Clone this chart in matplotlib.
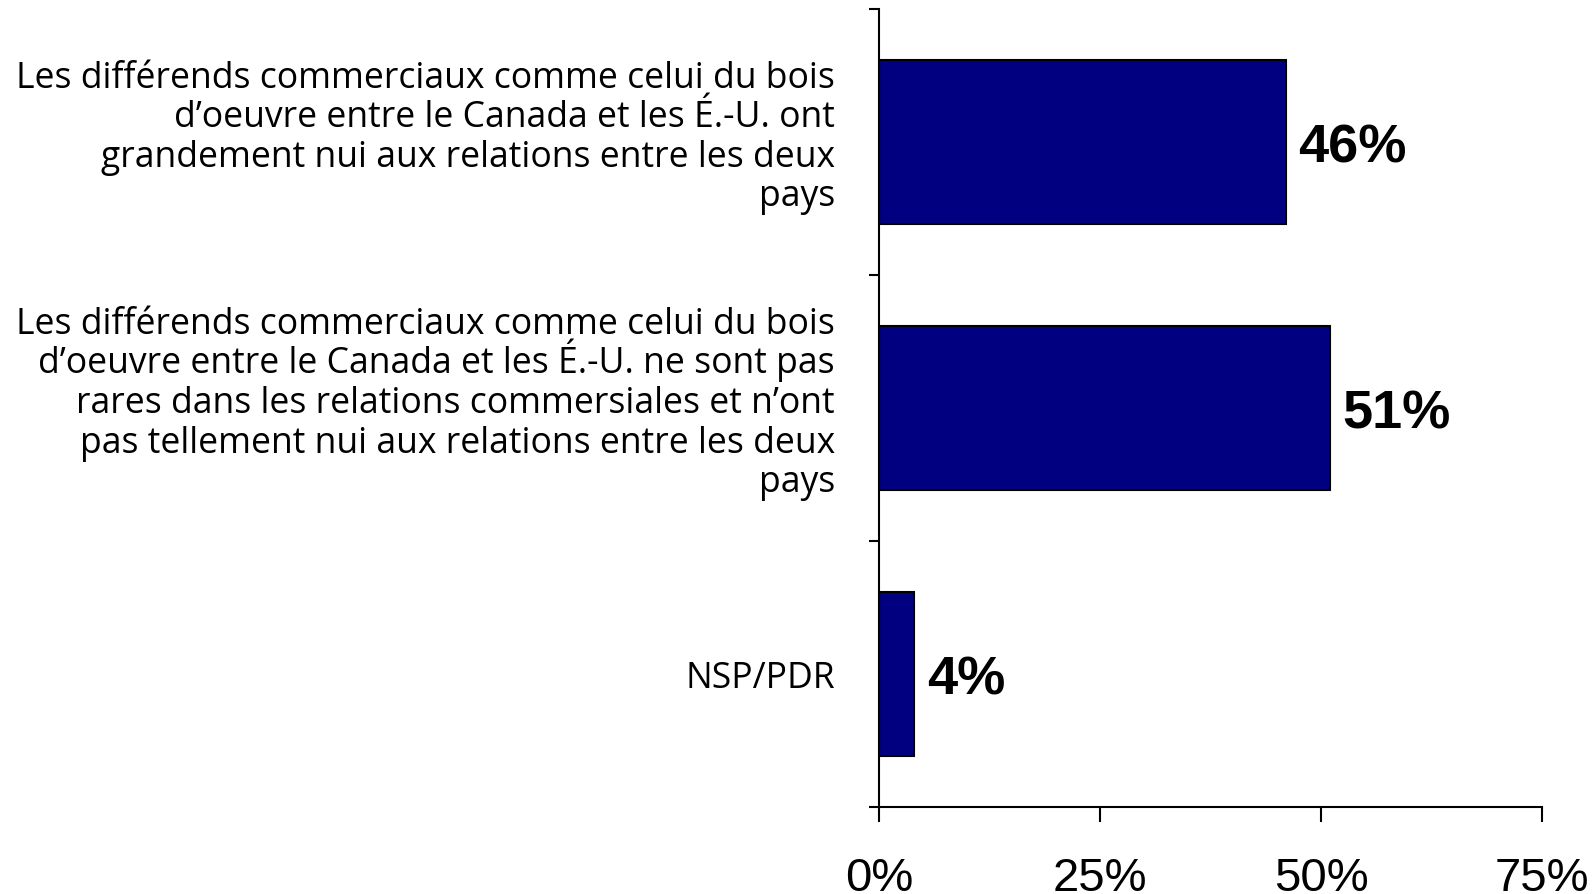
import matplotlib
matplotlib.use("Agg")
import matplotlib.pyplot as plt
from matplotlib.transforms import ScaledTranslation

categories = [
    "Les différends commerciaux comme celui du bois\nd’oeuvre entre le Canada et les É.-U. ont\ngrandement nui aux relations entre les deux\npays",
    "Les différends commerciaux comme celui du bois\nd’oeuvre entre le Canada et les É.-U. ne sont pas\nrares dans les relations commersiales et n’ont\npas tellement nui aux relations entre les deux\npays",
    "NSP/PDR",
]
values = [46, 51, 4]
value_labels = ["46%", "51%", "4%"]
xticks = [0, 25, 50, 75]
xtick_labels = ["0%", "25%", "50%", "75%"]

DPI = 100
fig = plt.figure(figsize=(15.93, 8.95), dpi=DPI)
ax = fig.add_axes([879/1593, 1-808/895, (1542-879)/1593, (808-10)/895])

n = len(categories)
ypos = list(range(n))
ax.barh(ypos, values, height=0.62, color="#000080", edgecolor="black", linewidth=1.5)
ax.set_ylim(n - 0.5, -0.5)
ax.set_xlim(0, 75)

for y, v, lab in zip(ypos, values, value_labels):
    ax.text(v + 1.4, y + 0.02, lab, va="center", ha="left",
            fontsize=39, fontweight="bold", family="Liberation Sans")

ax.set_xticks(xticks)
ax.set_xticklabels(xtick_labels, fontsize=34, family="Liberation Sans")
ax.tick_params(axis="x", direction="out", length=11, width=1.5, pad=24)

# category labels, drawn line by line for even line pitch
ax.set_yticks([])
ax.set_yticks([-0.5 + i for i in range(n + 1)], minor=True)
ax.tick_params(axis="y", which="minor", direction="out", length=7, width=1.5)
pitch_px = 39.5
base = ax.get_yaxis_transform()
for y, cat in zip(ypos, categories):
    lines = cat.split("\n")
    m = len(lines)
    base_off = 13 if m == 1 else 4
    for j, line in enumerate(lines):
        dy_px = -(base_off + (j - (m - 1) / 2) * pitch_px)
        tr = base + ScaledTranslation(-44 / DPI, dy_px / DPI, fig.dpi_scale_trans)
        ax.text(0, y, line, transform=tr, ha="right", va="baseline",
                fontsize=25.6, family="Open Sans", clip_on=False)

for s in ["top", "right"]:
    ax.spines[s].set_visible(False)
ax.spines["left"].set_linewidth(1.5)
ax.spines["bottom"].set_linewidth(1.5)

fig.savefig("out.png", dpi=DPI)
